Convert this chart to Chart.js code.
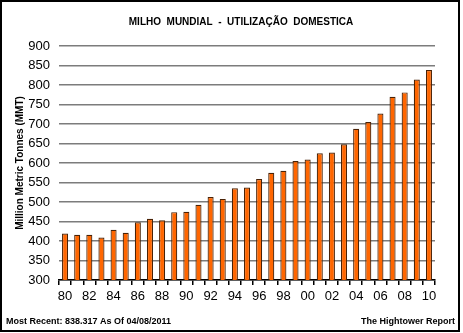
<!DOCTYPE html>
<html lang="pt">
<head>
<meta charset="UTF-8">
<title>Milho Mundial - Utilização Domestica</title>
<script src="https://cdn.jsdelivr.net/npm/chart.js"></script>
<style>
    html, body { margin: 0; padding: 0; background: #fff; }
    #wrap { position: relative; width: 463px; height: 333px; }
</style>
</head>
<body>
<div id="wrap">
    <canvas id="cornChart" width="463" height="333"></canvas>
</div>
<script>
    // marketing years 1980 .. 2010
    var years = ['80','81','82','83','84','85','86','87','88','89',
                 '90','91','92','93','94','95','96','97','98','99',
                 '00','01','02','03','04','05','06','07','08','09','10'];
    // domestic use, million metric tonnes
    var domesticUse = [419, 416, 416, 409, 429, 421, 448, 457, 453, 474,
                       475, 493, 513, 508, 535, 537, 559, 575, 580, 605,
                       609, 625, 627, 648, 688, 705, 727, 770, 781, 814, 838.3];
    var yTicks = [300, 350, 400, 450, 500, 550, 600, 650, 700, 750, 800, 850, 900];

    var titleText = 'MILHO  MUNDIAL  -  UTILIZAÇÃO  DOMESTICA';
    var yTitle = 'Million Metric Tonnes (MMT)';
    var footLeft = 'Most Recent: 838.317 As Of 04/08/2011';
    var footRight = 'The Hightower Report';

    // title, frame and footer texts
    var extras = {
        id: 'extras',
        afterDraw: function (chart) {
            var ctx = chart.ctx;
            ctx.save();
            ctx.fillStyle = '#000';
            ctx.textBaseline = 'middle';
            ctx.textAlign = 'center';
            ctx.font = 'bold 10px "Liberation Sans", Arial, sans-serif';
            ctx.fillText(titleText, 241, 22);
            ctx.font = 'bold 9px "Liberation Sans", Arial, sans-serif';
            ctx.textAlign = 'left';
            ctx.fillText(footLeft, 6, 322);
            ctx.textAlign = 'right';
            ctx.fillText(footRight, 455, 322);
            ctx.strokeStyle = '#000';
            ctx.lineWidth = 2;
            ctx.strokeRect(1, 1, 458, 330);
            ctx.restore();
        }
    };

    var ctx = document.getElementById('cornChart').getContext('2d');
    var chart = new Chart(ctx, {
        type: 'bar',
        data: {
            labels: years,
            datasets: [{
                data: domesticUse,
                backgroundColor: '#ff6600',
                borderColor: '#4a2206',
                borderWidth: 1.2,
                barPercentage: 0.5,
                categoryPercentage: 1.0
            }]
        },
        options: {
            responsive: false,
            animation: false,
            devicePixelRatio: 1,
            layout: { padding: { left: 0, top: 46, right: 28, bottom: 28 } },
            plugins: {
                legend: { display: false },
                tooltip: { enabled: false },
                title: { display: false }
            },
            scales: {
                x: {
                    offset: true,
                    border: { display: true, color: '#000', width: 1.5 },
                    grid: { display: true, offset: true, drawOnChartArea: false, drawTicks: true, tickLength: 5, color: '#000', lineWidth: 1.5 },
                    ticks: {
                        autoSkip: false,
                        maxRotation: 0,
                        padding: 4,
                        color: '#000',
                        font: { family: '"Liberation Sans", Arial, sans-serif', size: 13 },
                        callback: function (v, i) { return i % 2 === 0 ? years[i] : ''; }
                    },
                    afterFit: function (s) { s.height = 25; s.paddingLeft = 0; s.paddingRight = 0; }
                },
                y: {
                    min: 300,
                    max: 900,
                    border: { display: false },
                    grid: { color: '#7c7c7c', lineWidth: 1.6, drawTicks: false },
                    afterBuildTicks: function (s) { s.ticks = yTicks.map(function (v) { return { value: v }; }); },
                    ticks: {
                        padding: 9,
                        color: '#000',
                        font: { family: '"Liberation Sans", Arial, sans-serif', size: 13 }
                    },
                    title: {
                        display: true,
                        text: yTitle,
                        color: '#000',
                        font: { family: '"Liberation Sans", Arial, sans-serif', size: 10, weight: 'bold', lineHeight: 1.2 },
                        padding: { top: 14, bottom: 0 }
                    },
                    afterFit: function (s) { s.width = 59; s.paddingTop = 0; s.paddingBottom = 0; }
                }
            }
        },
        plugins: [extras]
    });
</script>
</body>
</html>
